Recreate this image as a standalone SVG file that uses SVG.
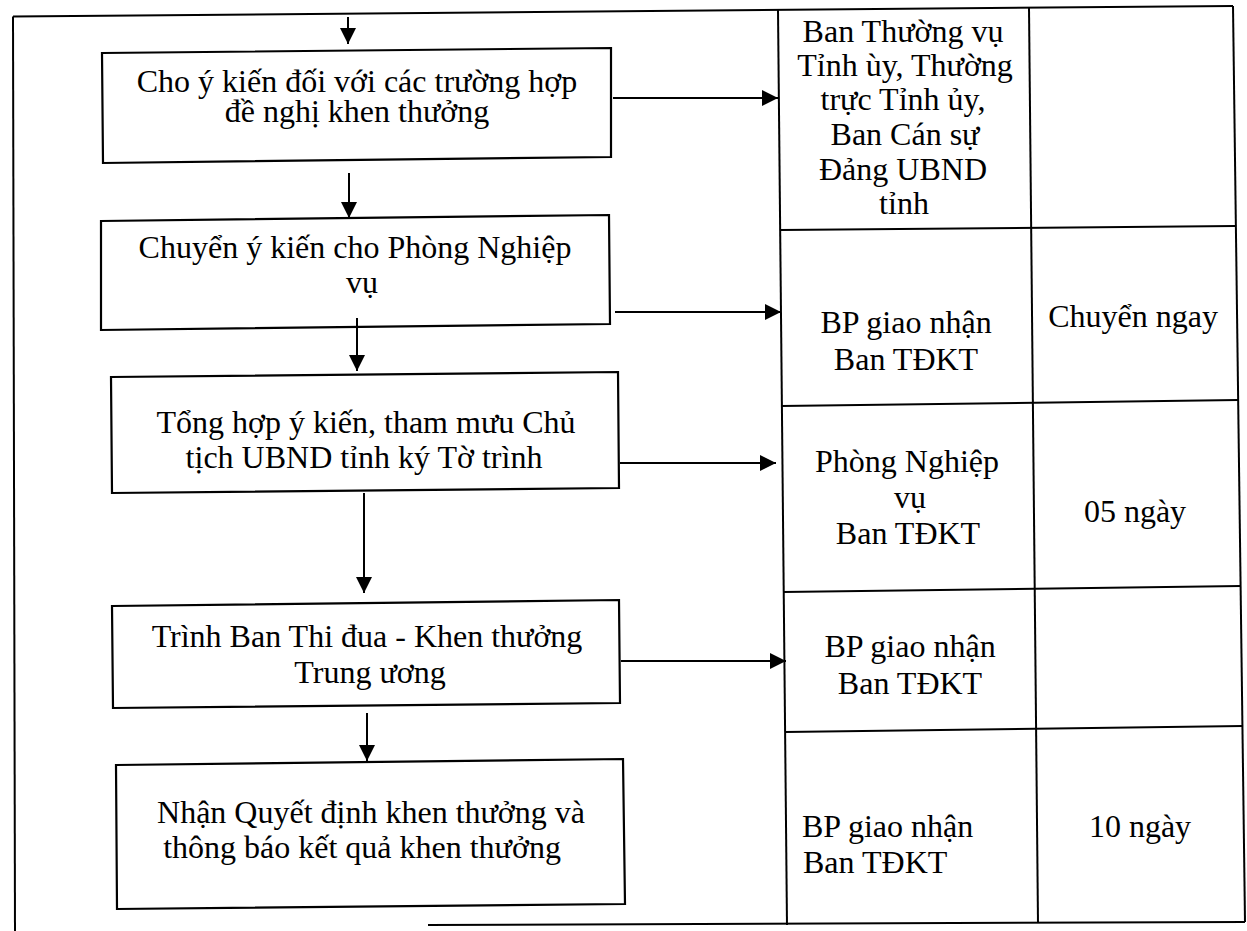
<svg xmlns="http://www.w3.org/2000/svg" width="1247" height="931" viewBox="0 0 1247 931">
  <style>
    .frame { fill: none; stroke: #000; stroke-width: 2; }
    .box { fill: #fff; stroke: #000; stroke-width: 2.2; }
    .conn { fill: none; stroke: #000; stroke-width: 2; }
    text { font-family: "Liberation Serif", "Times New Roman", serif; font-size: 32px; fill: #000; }
    .c { text-anchor: middle; }
  </style>
  <defs>
    <marker id="arrow" markerUnits="userSpaceOnUse" markerWidth="16" markerHeight="16" refX="16" refY="8" orient="auto">
      <path d="M0,0 L16,8 L0,16 z" fill="#000"/>
    </marker>
  </defs>
  <rect width="1247" height="931" fill="#fff"/>

  <!-- outer frame and responsibility / time table -->
  <g id="table" class="frame">
    <line x1="13" y1="16.5" x2="1233" y2="6"/>
    <line x1="13" y1="16.5" x2="15" y2="931"/>
    <line x1="428" y1="925" x2="1245" y2="922"/>
    <line x1="778" y1="10" x2="787" y2="925"/>
    <line x1="1029" y1="8" x2="1038" y2="923"/>
    <line x1="1233" y1="6" x2="1245" y2="922"/>
    <line x1="780" y1="230" x2="1235" y2="226"/>
    <line x1="781" y1="406" x2="1238" y2="400"/>
    <line x1="783" y1="592" x2="1241" y2="586"/>
    <line x1="785" y1="732" x2="1243" y2="726"/>
  </g>

  <!-- process steps -->
  <g id="step1">
    <polygon class="box" points="102,53 611,48 611,157 103,163"/>
    <text class="c" x="357" y="92">Cho ý kiến đối với các trường hợp</text>
    <text class="c" x="357" y="122">đề nghị khen thưởng</text>
  </g>
  <g id="step2">
    <polygon class="box" points="101,221 609,215 610,324 101,330"/>
    <text class="c" x="355" y="258">Chuyển ý kiến cho Phòng Nghiệp</text>
    <text class="c" x="362" y="293">vụ</text>
  </g>
  <g id="step3">
    <polygon class="box" points="111,377 618,372 619,488 112,493"/>
    <text class="c" x="366" y="433">Tổng hợp ý kiến, tham mưu Chủ</text>
    <text class="c" x="364" y="468">tịch UBND tỉnh ký Tờ trình</text>
  </g>
  <g id="step4">
    <polygon class="box" points="112,606 619,600 620,703 113,708"/>
    <text class="c" x="367" y="647">Trình Ban Thi đua - Khen thưởng</text>
    <text class="c" x="370" y="683">Trung ương</text>
  </g>
  <g id="step5">
    <polygon class="box" points="116,765 623,759 625,904 117,909"/>
    <text class="c" x="371" y="823">Nhận Quyết định khen thưởng và</text>
    <text class="c" x="362" y="858">thông báo kết quả khen thưởng</text>
  </g>

  <!-- table cells -->
  <g id="cell1">
    <text class="c" x="903" y="42">Ban Thường vụ</text>
    <text class="c" x="905" y="76">Tỉnh ùy, Thường</text>
    <text class="c" x="903" y="110">trực Tỉnh ủy,</text>
    <text class="c" x="905" y="145">Ban Cán sự</text>
    <text class="c" x="903" y="180">Đảng UBND</text>
    <text class="c" x="904" y="214">tỉnh</text>
  </g>
  <g id="cell2">
    <text class="c" x="906" y="333">BP giao nhận</text>
    <text class="c" x="906" y="370">Ban TĐKT</text>
    <text class="c" x="1133" y="327">Chuyển ngay</text>
  </g>
  <g id="cell3">
    <text class="c" x="907" y="472">Phòng Nghiệp</text>
    <text class="c" x="910" y="508">vụ</text>
    <text class="c" x="908" y="544">Ban TĐKT</text>
    <text class="c" x="1135" y="522">05 ngày</text>
  </g>
  <g id="cell4">
    <text class="c" x="910" y="657">BP giao nhận</text>
    <text class="c" x="910" y="694">Ban TĐKT</text>
  </g>
  <g id="cell5">
    <text x="802" y="837">BP giao nhận</text>
    <text x="803" y="873">Ban TĐKT</text>
    <text class="c" x="1140" y="837">10 ngày</text>
  </g>

  <!-- connectors -->
  <g id="connectors" class="conn" marker-end="url(#arrow)">
    <line x1="348" y1="17" x2="348" y2="44"/>
    <line x1="349" y1="173" x2="349" y2="218"/>
    <line x1="357" y1="318" x2="357" y2="371"/>
    <line x1="364" y1="493" x2="364" y2="593"/>
    <line x1="367" y1="713" x2="367" y2="761"/>
    <line x1="613" y1="98" x2="778" y2="98"/>
    <line x1="615" y1="312" x2="781" y2="312"/>
    <line x1="620" y1="463" x2="776" y2="463"/>
    <line x1="621" y1="661" x2="786" y2="661"/>
  </g>
</svg>
